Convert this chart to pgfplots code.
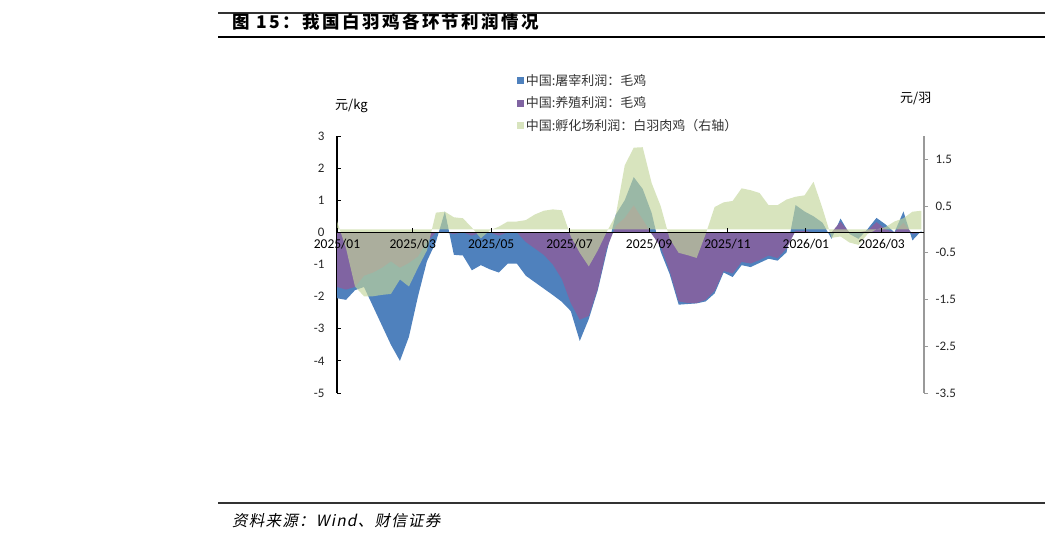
\documentclass[border=0pt]{standalone}
\usepackage{fontspec}
\setmainfont{Carlito}
\newfontfamily\cjk{Noto Sans CJK SC}
\newfontfamily\cjktitle[LetterSpace=14]{Noto Sans CJK SC}
\newfontfamily\cjkit[FakeSlant=0.2,LetterSpace=8]{Noto Sans CJK SC}
\usepackage{pgfplots}
\usepackage{pgfplotstable}
\pgfplotsset{compat=1.18}

\definecolor{hblue}{HTML}{4F81BD}
\definecolor{hpurple}{HTML}{8064A2}
\definecolor{hgreen}{HTML}{C3D69B}

% weekly data, x = days since 2025-01-01
% blue: slaughter profit (yuan/kg), purple: farming profit (yuan/kg), green: hatchery profit (yuan/bird, right axis)
\pgfplotstableread{
x    blue   purple  green
0   -2.05  -1.70   0.18
7   -2.10  -1.78  -0.40
14  -1.80  -1.70  -1.22
21  -1.70  -1.35  -1.43
28  -2.30  -1.25  -1.43
35  -2.90  -1.10  -1.40
42  -3.50  -0.90  -1.38
49  -4.00  -1.10  -1.07
56  -3.25  -0.95  -1.22
63  -2.00  -0.75  -0.82
70  -0.90  -0.30  -0.45
77  -0.30   0.00   0.36
84   0.65   0.00   0.38
91  -0.70  -0.05   0.26
98  -0.72   0.00   0.24
105 -1.18  -0.10   0.04
112 -1.02   0.00  -0.19
119 -1.15   0.00  -0.02
126 -1.25  -0.10   0.06
133 -0.97   0.00   0.17
140 -0.97   0.00   0.17
147 -1.35  -0.30   0.20
154 -1.55  -0.50   0.32
161 -1.75  -0.70   0.40
168 -1.95  -1.00   0.43
175 -2.16  -1.45   0.41
182 -2.45  -2.20  -0.15
189 -3.38  -2.72  -0.50
196 -2.70  -2.60  -0.79
203 -1.80  -1.75  -0.45
210 -0.60  -0.50  -0.05
217  0.55   0.20   0.30
224  1.00   0.45   1.37
231  1.72   0.84   1.75
238  1.35   0.40   1.76
245  0.60  -0.05   0.99
252 -0.60  -0.45   0.50
259 -1.30  -1.20  -0.20
266 -2.25  -2.15  -0.50
273 -2.23  -2.20  -0.55
280 -2.21  -2.20  -0.61
287 -2.15  -2.10  -0.10
294 -1.90  -1.82   0.48
301 -1.25  -1.20   0.58
308 -1.39  -1.28   0.61
315 -1.02  -0.92   0.88
322 -1.08  -0.97   0.84
329 -0.95  -0.86   0.78
336 -0.82  -0.72   0.52
343 -0.88  -0.80   0.52
350 -0.62  -0.50   0.64
357  0.85   0.05   0.70
364  0.65   0.05   0.73
371  0.50   0.00   1.02
378  0.30   0.00   0.45
385 -0.20   0.00  -0.18
392  0.43   0.33  -0.15
399 -0.05   0.00  -0.28
406 -0.20   0.00  -0.33
413  0.10   0.05  -0.10
420  0.45   0.32   0.00
427  0.25   0.10   0.05
434  0.00   0.00   0.17
441  0.65   0.30   0.24
448 -0.25  -0.05   0.38
455  0.05   0.00   0.40
}\profit

\pgfplotsset{
  profitbox/.style={
    at={(337pt,142pt)}, anchor=south west,
    scale only axis, width=587pt, height=257pt,
    xmin=0, xmax=457,
    major tick length=4pt,
    /pgf/number format/assume math mode=true,
    tick label style={font=\fontsize{13}{15}\selectfont, text=black!85},
  },
}

\begin{document}
\begin{tikzpicture}[x=1pt,y=1pt]
\path (0,0) rectangle (1053,535);

% header and footer
\draw[black!80, line width=1.2pt] (218,522) -- (1045,522);
\node[anchor=west, inner sep=0pt] at (232,513) {\cjktitle\bfseries\fontsize{17.5}{20}\selectfont 图 15：我国白羽鸡各环节利润情况};
\draw[black, line width=1.8pt] (218,498) -- (1045,498);
\draw[black!80, line width=1.2pt] (218,32) -- (1045,32);
\node[anchor=west, inner sep=0pt] at (232,14) {\cjkit\fontsize{15.5}{18}\selectfont 资料来源：Wind、财信证券};

% unit labels
\node[anchor=west, inner sep=0pt] at (335,429) {\cjk\fontsize{13}{15}\selectfont 元/kg};
\node[anchor=west, inner sep=0pt] at (900,436) {\cjk\fontsize{13}{15}\selectfont 元/羽};

% left axis: slaughter and farming profit
\begin{axis}[
    profitbox,
    ymin=-5, ymax=3,
    axis x line=none, axis y line=left,
    y axis line style={-, black, line width=1.2pt},
    ytick={-5,-4,...,3},
    ytick align=inside,
    tick style={black, line width=0.8pt},
    yticklabel style={xshift=-9pt},
    legend style={at={(0.306,1.248)}, anchor=north west, draw=none, fill=none,
        font=\cjk\fontsize{13}{15}\selectfont, text=black!80,
        row sep=6pt, inner sep=0pt, cells={anchor=west}},
    legend image code/.code={\fill[#1] (0pt,-3.5pt) rectangle (7pt,3.5pt);},
]
\addplot[fill=hblue, draw=none, sharp plot] table[x=x, y=blue]{\profit} \closedcycle;
\addlegendentry{中国:屠宰利润：毛鸡}
\addplot[fill=hpurple, draw=none, sharp plot] table[x=x, y=purple]{\profit} \closedcycle;
\addlegendentry{中国:养殖利润：毛鸡}
\addlegendimage{fill=hgreen, fill opacity=0.65, draw=none}
\addlegendentry{中国:孵化场利润：白羽肉鸡（右轴）}
\end{axis}

% right axis: hatchery profit
\begin{axis}[
    profitbox,
    ymin=-3.5, ymax=2,
    axis x line=none, axis y line*=right,
    y axis line style={-, black!40, line width=1.2pt},
    ytick={-3.5,-2.5,-1.5,-0.5,0.5,1.5},
    ytick align=outside,
    tick style={black!40, line width=0.8pt},
    /pgf/number format/fixed,
    yticklabel style={xshift=4pt},
]
\addplot[fill=hgreen, fill opacity=0.65, draw=none, sharp plot] table[x=x, y=green]{\profit} \closedcycle;
\end{axis}

% date axis on top, at zero of the left scale
\begin{axis}[
    profitbox,
    ymin=-5, ymax=3,
    axis x line=middle, axis y line=none,
    x axis line style={-, black, line width=1.2pt},
    hide obscured x ticks=false,
    xtick={0,59,120,181,243,304,365,424},
    xticklabels={2025/01,2025/03,2025/05,2025/07,2025/09,2025/11,2026/01,2026/03},
    xtick align=inside,
    tick style={black, line width=0.8pt},
    xticklabel style={yshift=-3pt, font=\fontsize{13.5}{15}\selectfont, text=black},
]
\end{axis}
\end{tikzpicture}
\end{document}
